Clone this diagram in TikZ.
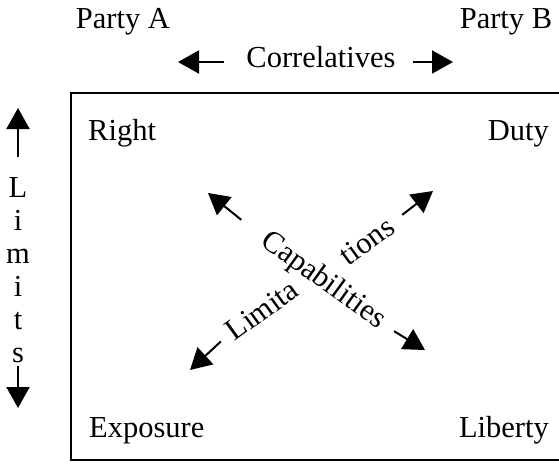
\documentclass[tikz,border=0pt]{standalone}
\usepackage{fontspec}
\setmainfont{Liberation Serif}
\usepackage{tikz}
\usetikzlibrary{arrows.meta}

\tikzset{
  lbl/.style={font=\fontsize{30.5}{33}\selectfont, inner sep=0pt},
  arr/.style={line width=2pt, -{Triangle[length=21pt,width=23pt]}}
}

\begin{document}
\begin{tikzpicture}[x=1pt,y=-1pt]
\useasboundingbox (0,0) rectangle (559,463);
\clip (0,0) rectangle (559,463);
% the frame, open to the right
\draw [line width=2.5pt] (565,93) -- (71,93) -- (71,460) -- (565,460);
% parties and correlatives
\node [lbl, anchor=base] (pa) at (123,28) {Party A};
\node [lbl, anchor=base] (pb) at (506,28) {Party B};
\node [lbl, anchor=base] (corr) at (321,67) {Correlatives};
\coordinate (cl) at (178,62);
\coordinate (cr) at (453,62);
\draw [arr, shorten <=22pt] (corr.west |- cl) -- (cl);
\draw [arr, shorten <=17pt] (corr.east |- cr) -- (cr);
% corners
\node [lbl, anchor=base west] (right) at (88,140) {Right};
\node [lbl, anchor=base east] (duty) at (549,140) {Duty};
\node [lbl, anchor=base west] (expo) at (89,437) {Exposure};
\node [lbl, anchor=base east] (lib) at (549,437) {Liberty};
% limits on the left
\node [lbl, anchor=north, align=center] (lims) at (18,177) {L\\i\\m\\i\\t\\s};
\coordinate (lu) at (18,108);
\coordinate (ld) at (18,408);
\draw [arr, shorten <=20pt] (lims.north) -- (lu);
\draw [arr, shorten <=3pt] (lims.south) -- (ld);
% the cross
\node [lbl, rotate=-36] (cap) at (323,281) {Capabilities};
\node [lbl, rotate=36] (limita) at (262,310) {Limita};
\node [lbl, rotate=36] (tions) at (367,241) {tions};
\coordinate (ul) at (208,193);
\coordinate (lr) at (425,350);
\coordinate (ll) at (190,370);
\coordinate (ur) at (433,191);
\draw [arr, shorten <=29pt] (cap.west) -- (ul);
\draw [arr, shorten <=14pt] (cap.east) -- (lr);
\draw [arr, shorten <=11pt] (limita.west) -- (ll);
\draw [arr, shorten <=14pt] (tions.east) -- (ur);
\end{tikzpicture}
\end{document}
